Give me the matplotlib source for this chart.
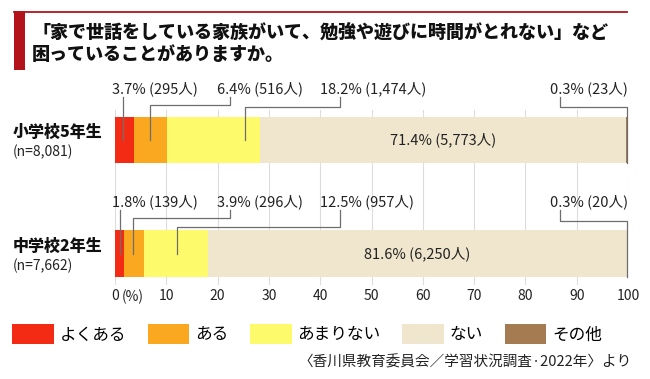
import numpy as np
import matplotlib
matplotlib.use("Agg")
import matplotlib.pyplot as plt
from matplotlib.patches import Patch, Rectangle
from matplotlib.lines import Line2D

plt.rcParams['font.family'] = ['Noto Sans CJK JP', 'DejaVu Sans']

# data
groups = ['小学校5年生', '中学校2年生']
ns = ['8,081', '7,662']
categories = ['よくある', 'ある', 'あまりない', 'ない', 'その他']
pct_es = [3.7, 6.4, 18.2, 71.4, 0.3]
cnt_es = [295, 516, 1474, 5773, 23]
pct_js = [1.8, 3.9, 12.5, 81.6, 0.3]
cnt_js = [139, 296, 957, 6250, 20]
xticks = [0, 10, 20, 30, 40, 50, 60, 70, 80, 90, 100]

colors = ['#f42b14', '#f9a81f', '#fdfa6c', '#efe6cd', '#a57b52']
title_red = '#b3141c'
leader = '#6e6e6e'

W, H = 650, 379
fig = plt.figure(figsize=(W / 100, H / 100), dpi=100)


def fx(px):
    return px / W


def fy(py):
    return 1 - py / H


# title decoration
fig.add_artist(Rectangle((fx(14), fy(70)), fx(11), (70 - 11) / H,
                         transform=fig.transFigure, color=title_red, lw=0))
fig.add_artist(Line2D([fx(14), fx(627)], [fy(11.5), fy(11.5)],
                      transform=fig.transFigure, color=title_red, lw=1.3))
fig.text(fx(32), fy(32), '「家で世話をしている家族がいて、勉強や遊びに時間がとれない」など',
         fontsize=13, fontweight='heavy', va='center', ha='left', color='#111111')
fig.text(fx(32), fy(54), '困っていることがありますか。',
         fontsize=13, fontweight='heavy', va='center', ha='left', color='#111111')

# main axes
ax = fig.add_axes([fx(115), fy(285), fx(628) - fx(115), (285 - 110) / H])
unit = 113.5
ax.set_ylim((285 - 140) / unit, (110 - 140) / unit)
ax.set_xlim(0, 100)
bar_h = 46 / unit

rows = [(pct_es, cnt_es), (pct_js, cnt_js)]
for i, (pcts, cnts) in enumerate(rows):
    left = 0
    for j, p in enumerate(pcts):
        ax.barh(i, p, left=left, height=bar_h, color=colors[j], lw=0, zorder=2)
        left += p

ax.set_xticks(xticks)
ax.set_xticklabels([str(t) for t in xticks], fontsize=10, color='#222222')
ax.tick_params(axis='x', length=0, pad=3)
ax.set_yticks([])
for s in ax.spines.values():
    s.set_visible(False)
ax.grid(axis='x', color='#dcdcdc', lw=0.8, zorder=0)
ax.annotate('(%)', xy=(0, -0.068), xycoords=ax.get_xaxis_transform(),
            xytext=(5, 0), textcoords='offset points', fontsize=10,
            ha='left', va='center', color='#222222')

# group labels
for i, (g, n) in enumerate(zip(groups, ns)):
    ax.text(-20.0, i - 0.07, g, fontsize=11.5, fontweight='heavy', ha='left',
            va='center', color='#111111', clip_on=False)
    ax.text(-20.0, i + 0.105, '(n=' + n + ')', fontsize=10, ha='left',
            va='center', color='#222222', clip_on=False)

# leader layout per row: label x, label alignment, start x, knee offset, target x
label_x = [-0.6, 19.9, 40.0, None, 100.0]
label_ha = ['left', 'left', 'left', None, 'right']
start_x = [None, 22.4, 43.9, None, 86.7]
knees = [[None, -0.31, -0.29, None, -0.29],
         [None, -0.31, -0.235, None, -0.29]]
targets = [[1.56, 6.8, 25.3, None, 99.9],
           [1.0, 3.5, 12.0, None, 99.9]]
label_y = -0.455
label_bottom = -0.38

for i, (pcts, cnts) in enumerate(rows):
    for j in range(5):
        txt = f'{pcts[j]}% ({cnts[j]:,}人)'
        if j == 3:
            mid = sum(pcts[:3]) + pcts[3] / 2
            ax.text(mid, i, txt, fontsize=10.5, ha='center', va='center',
                    color='#222222', zorder=3)
            continue
        ax.text(label_x[j], i + label_y, txt, fontsize=10.5, ha=label_ha[j],
                va='center', color='#222222', clip_on=False)
        tx = targets[i][j]
        if j == 0:
            ax.plot([tx, tx], [i + label_bottom, i], color=leader, lw=0.9,
                    clip_on=False, zorder=4)
        else:
            k = knees[i][j]
            end_y = i + bar_h / 2 if j == 4 else i
            ax.plot([start_x[j], start_x[j], tx, tx],
                    [i + label_bottom, i + k, i + k, end_y],
                    color=leader, lw=0.9, clip_on=False, zorder=4)

# legend
handles = [Patch(facecolor=c, edgecolor='none') for c in colors]
fig.legend(handles, categories, loc='center left', ncol=5,
           bbox_to_anchor=(fx(12), fy(334)), frameon=False, fontsize=12,
           handlelength=2.5, handleheight=1.55, handletextpad=0.35,
           columnspacing=1.3, borderpad=0, borderaxespad=0)

fig.text(fx(632), fy(362), '〈香川県教育委員会／学習状況調査·2022年〉より',
         fontsize=10.5, ha='right', va='center', color='#222222')

fig.savefig('out.png', dpi=100, facecolor='white')
